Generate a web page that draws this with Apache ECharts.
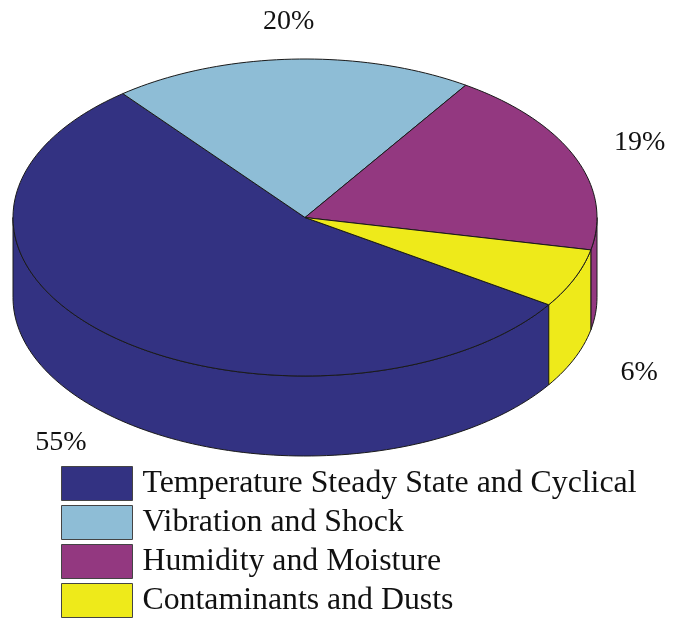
<!DOCTYPE html>
<html>
<head>
<meta charset="utf-8">
<title>Failure causes</title>
<script src="https://cdn.jsdelivr.net/npm/echarts@6/dist/echarts.min.js"></script>
<style>
  html, body { margin: 0; padding: 0; background: #fff; }
  #chart { width: 682px; height: 620px; }
</style>
</head>
<body>
<div id="chart"></div>
<script>
// Share of failures by environmental cause (percent)
const categories = [
  'Temperature Steady State and Cyclical',
  'Vibration and Shock',
  'Humidity and Moisture',
  'Contaminants and Dusts'
];
const shares = [55, 20, 19, 6];
const colors = ['#333282', '#8ebdd6', '#933880', '#eeea1a'];

// Projected disc geometry (pixels) and tilt
const CX = 305, CY = 217.5;   // centre of top face
const RX = 292, RY = 158.5;   // ellipse radii of top face
const DEPTH = 80;             // thickness of disc
const START = 326.6;          // first slice starts here, slices run clockwise
const LABEL_K = 1.24;

const total = shares.reduce((a, b) => a + b, 0);
const cumulative = [];
shares.reduce((acc, v, i) => { cumulative[i] = acc; return acc + v; }, 0);

const rad = d => d * Math.PI / 180;
const pt = (deg, dy) => [CX + RX * Math.cos(rad(deg)), CY - RY * Math.sin(rad(deg)) + (dy || 0)];

function arc(from, to, dy) {
  const pts = [];
  const n = Math.max(2, Math.ceil(Math.abs(to - from) / 1.5));
  for (let i = 0; i <= n; i++) pts.push(pt(from + (to - from) * i / n, dy));
  return pts;
}

// Parts of [lo, hi] that lie on the front half of the disc (sin < 0)
function frontParts(lo, hi) {
  const parts = [];
  for (let k = -2; k <= 2; k++) {
    const a = 180 + 360 * k, b = 360 + 360 * k;
    const s = Math.max(lo, a), e = Math.min(hi, b);
    if (e > s) parts.push([s, e]);
  }
  return parts;
}

function makeRender(idx) {
  return function (params, api) {
    const value = api.value(0);
    const a = START - cumulative[idx] / total * 360;   // slice start (larger angle)
    const b = a - value / total * 360;                  // slice end
    const style = { fill: colors[idx], stroke: '#1a1a1a', lineWidth: 1 };
    const children = [];

    frontParts(b, a).forEach(([s, e]) => {
      const pts = arc(s, e, 0).concat(arc(e, s, DEPTH));
      children.push({ type: 'polygon', z2: 1, shape: { points: pts }, style: style });
    });

    const top = [[CX, CY]].concat(arc(a, b, 0));
    children.push({ type: 'polygon', z2: 10, shape: { points: top }, style: style });

    const mid = (a + b) / 2;
    const sinM = Math.sin(rad(mid));
    const lx = CX + LABEL_K * RX * Math.cos(rad(mid));
    const ly = CY - LABEL_K * RY * sinM + (sinM < 0 ? DEPTH : 0);
    children.push({
      type: 'text', z2: 20,
      style: {
        x: lx, y: ly, text: value + '%',
        fill: '#111', font: '28px "Liberation Serif", "Times New Roman", serif',
        align: 'center', verticalAlign: 'middle'
      }
    });
    return { type: 'group', children: children };
  };
}

const chart = echarts.init(document.getElementById('chart'), null, { renderer: 'canvas' });

chart.setOption({
  backgroundColor: '#fff',
  animation: false,
  legend: {
    orient: 'vertical',
    left: 61,
    top: 466,
    height: 220,
    padding: 0,
    itemWidth: 71,
    itemHeight: 34,
    itemGap: 4,
    icon: 'rect',
    data: categories,
    itemStyle: { borderColor: '#444', borderWidth: 1 },
    textStyle: {
      fontFamily: '"Liberation Serif", "Times New Roman", serif',
      fontSize: 31.8,
      lineHeight: 34,
      color: '#111',
      padding: [0, 0, 0, 5]
    }
  },
  series: categories.map((name, i) => ({
    type: 'custom',
    name: name,
    coordinateSystem: 'none',
    itemStyle: { color: colors[i] },
    renderItem: makeRender(i),
    data: [[shares[i]]]
  }))
});
</script>
</body>
</html>
